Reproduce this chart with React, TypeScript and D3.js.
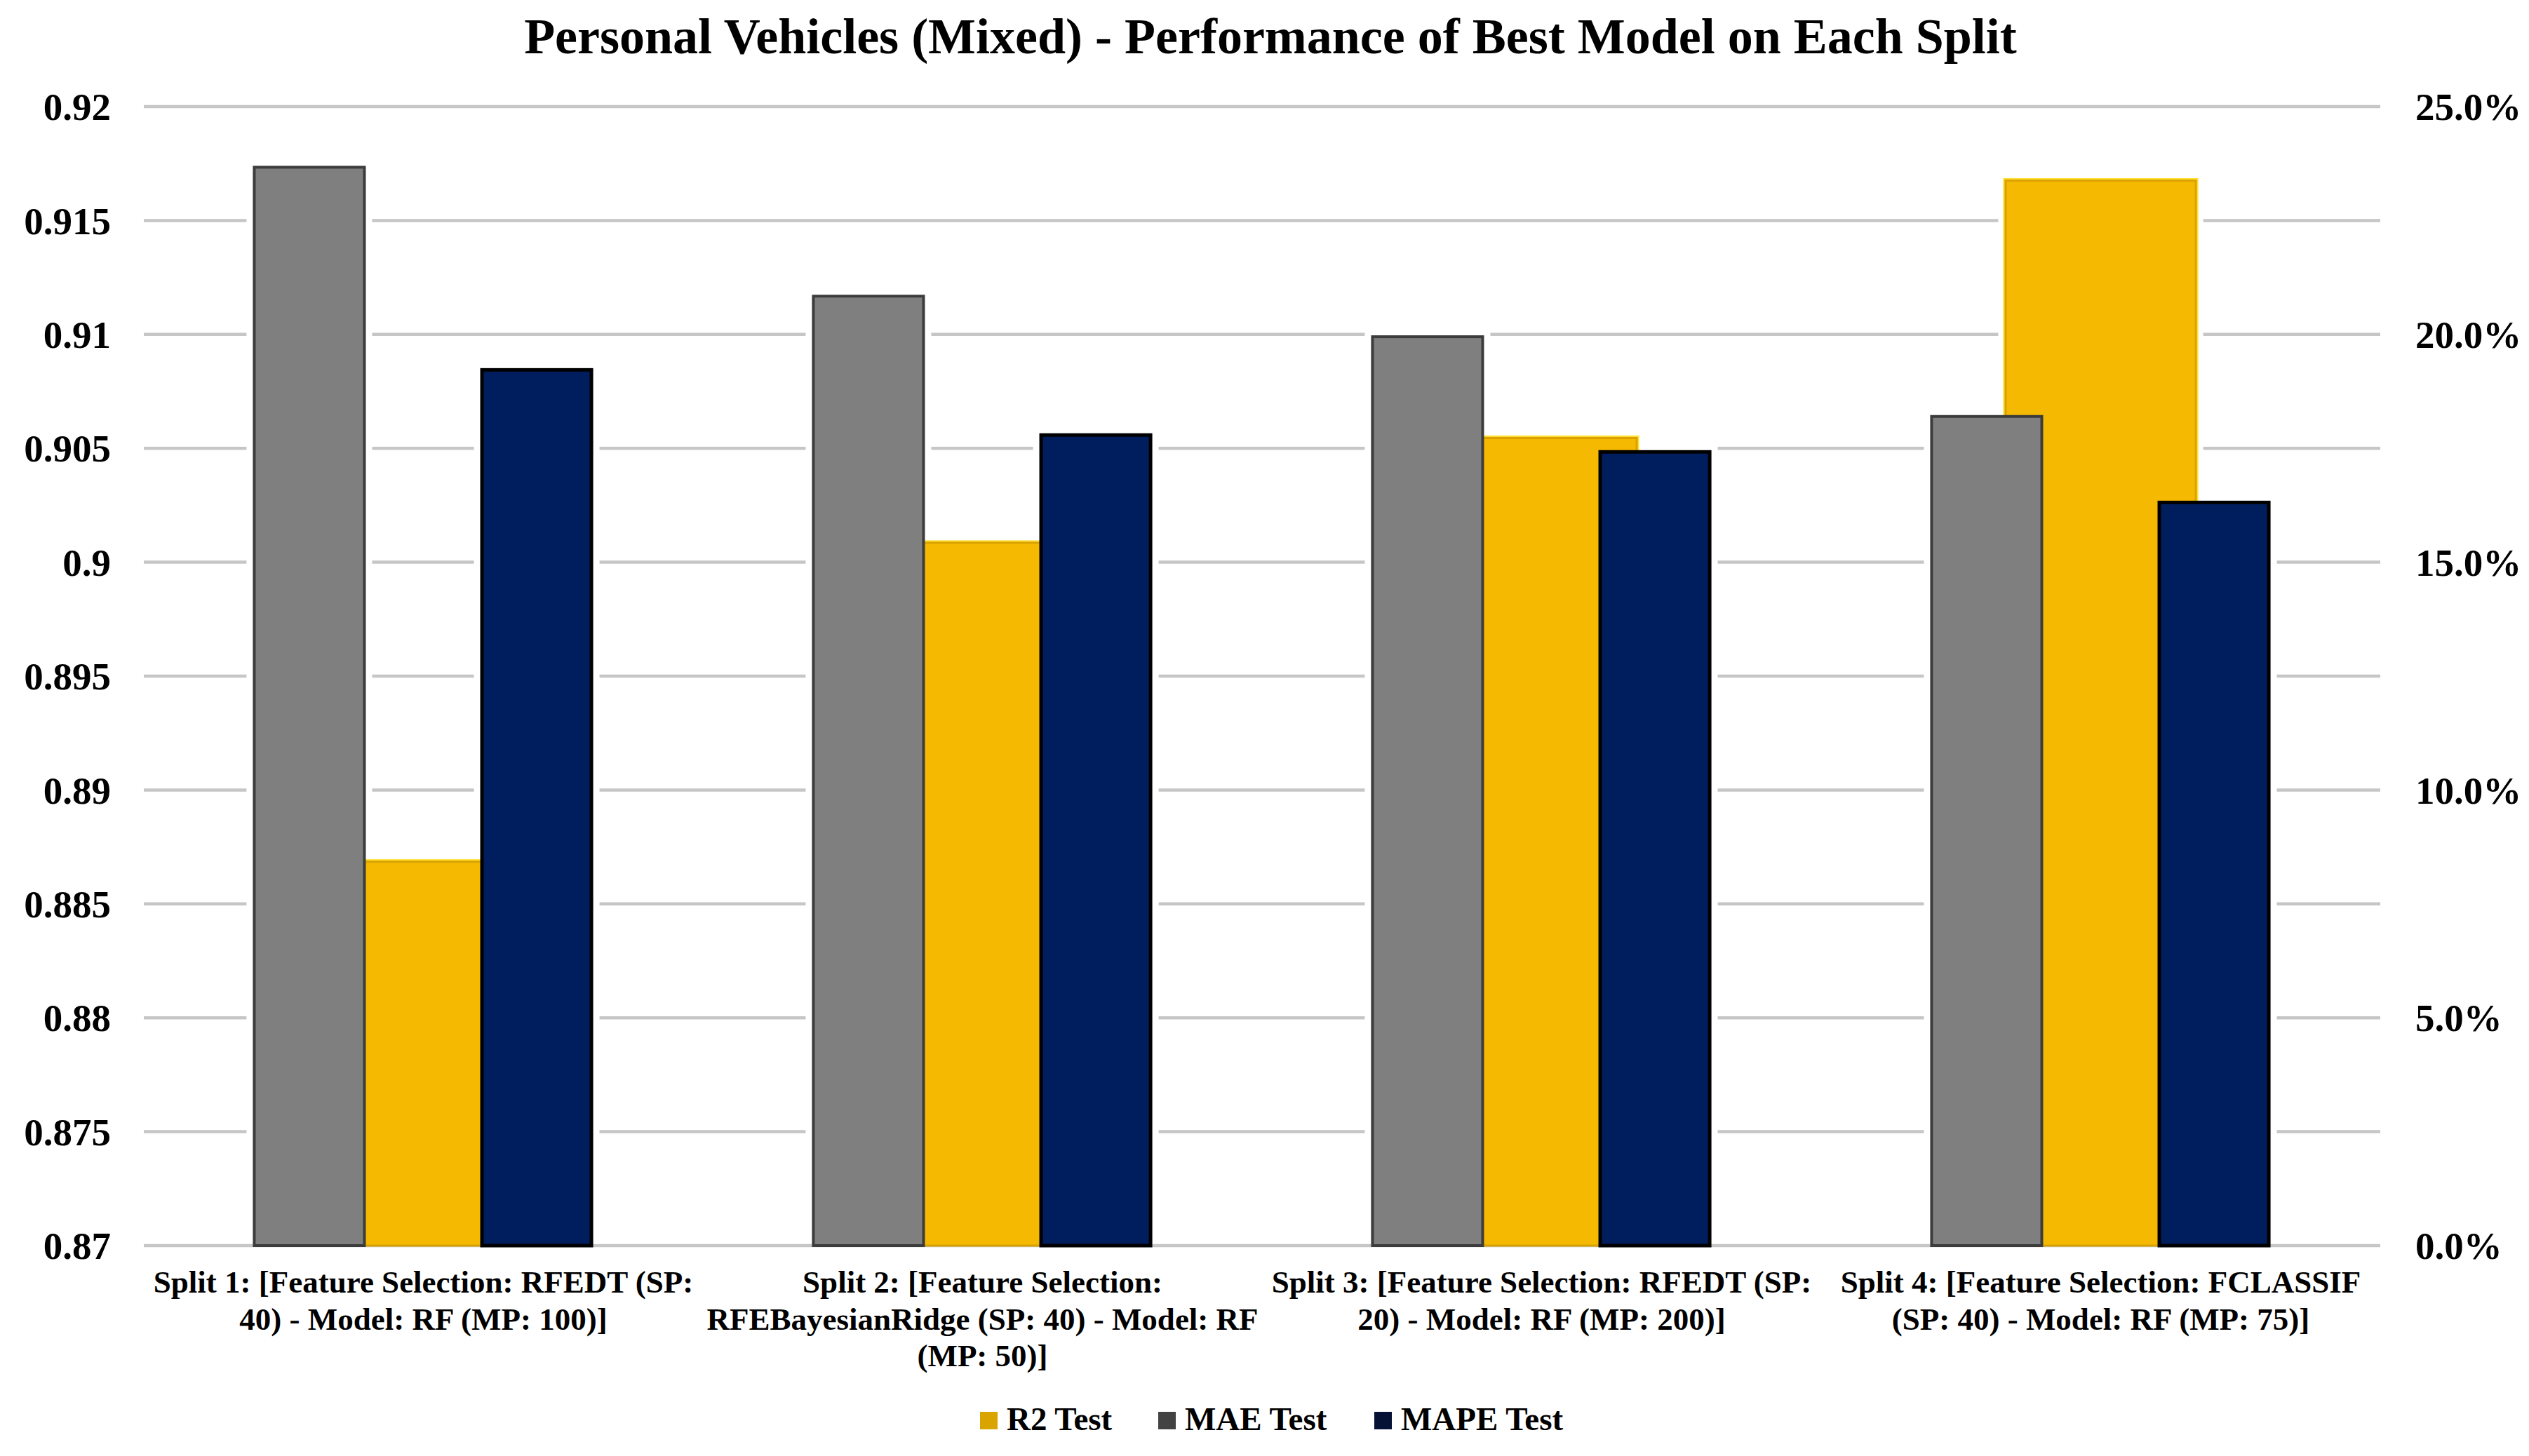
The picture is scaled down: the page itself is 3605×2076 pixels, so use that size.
import React, { useEffect } from "react";
import * as d3 from "d3";

const categories = ["Split 1", "Split 2", "Split 3", "Split 4"];
const categoryLabels: string[][] = [
  ["Split 1: [Feature Selection: RFEDT (SP:", "40) - Model: RF (MP: 100)]"],
  ["Split 2: [Feature Selection:", "RFEBayesianRidge (SP: 40) - Model: RF", "(MP: 50)]"],
  ["Split 3: [Feature Selection: RFEDT (SP:", "20) - Model: RF (MP: 200)]"],
  ["Split 4: [Feature Selection: FCLASSIF", "(SP: 40) - Model: RF (MP: 75)]"],
];
const r2Test = [0.8869, 0.9009, 0.9055, 0.9168];
const maeTest = [0.237, 0.2087, 0.1998, 0.1823];
const mapeTest = [0.1926, 0.1783, 0.1746, 0.1635];
const leftTicks = [0.87, 0.875, 0.88, 0.885, 0.89, 0.895, 0.9, 0.905, 0.91, 0.915, 0.92];
const rightTicks = [0, 0.05, 0.1, 0.15, 0.2, 0.25];
const legendItems = ["R2 Test", "MAE Test", "MAPE Test"];
const title = "Personal Vehicles (Mixed) - Performance of Best Model on Each Split";

const W = 3605;
const H = 2076;
const FONT = "'Liberation Serif', 'Times New Roman', serif";

export default function App() {
  useEffect(() => {
    document.body.style.margin = "0";
  }, []);

  const x = d3.scaleBand<string>().domain(categories).range([205, 3393]).padding(0);
  const bw = x.bandwidth();
  const sub = d3
    .scaleBand<string>()
    .domain(["MAE", "gap", "MAPE"])
    .range([-bw * 0.305, bw * 0.305])
    .padding(0);
  const yL = d3.scaleLinear().domain([0.87, 0.92]).range([1776, 152]);
  const yR = d3.scaleLinear().domain([0, 0.25]).range([1776, 152]);
  const yellowW = bw * 0.344;
  const sideW = sub.bandwidth() - 1;
  const halo = 9;
  const pct = d3.format(".1%");

  const cx = (c: string) => (x(c) as number) + bw / 2;

  const bars = categories.map((c, i) => {
    const center = cx(c);
    return {
      c,
      center,
      yellow: { x: center - yellowW / 2, w: yellowW, y: yL(r2Test[i]) },
      gray: { x: center + (sub("MAE") as number), w: sideW, y: yR(maeTest[i]) },
      navy: { x: center + (sub("MAPE") as number), w: sideW, y: yR(mapeTest[i]) },
    };
  });
  const base = yL(0.87);

  const legendColors = ["#D9A300", "#434343", "#061235"];
  const legendX = [1397, 1651, 1959];

  return (
    <svg
      width={W}
      height={H}
      viewBox={`0 0 ${W} ${H}`}
      style={{ position: "absolute", left: 0, top: 0, background: "#fff" }}
      fontFamily={FONT}
    >
      <rect x={0} y={0} width={W} height={H} fill="#fff" />
      <text x={1811} y={76} textAnchor="middle" fontSize={72} fontWeight="bold" fill="#000">
        {title}
      </text>

      {/* gridlines */}
      {leftTicks.map((t) => (
        <line
          key={"g" + t}
          x1={x.range()[0]}
          x2={x.range()[1]}
          y1={yL(t)}
          y2={yL(t)}
          stroke="#c6c6c6"
          strokeWidth={4.5}
        />
      ))}

      {/* halos around bars */}
      {bars.map((b) => (
        <g key={"h" + b.c} fill="#fff">
          <rect x={b.yellow.x - halo} y={b.yellow.y - halo} width={b.yellow.w + 2 * halo} height={base - b.yellow.y + halo - 3} />
          <rect x={b.gray.x - halo} y={b.gray.y - halo} width={b.gray.w + 2 * halo} height={base - b.gray.y + halo - 3} />
          <rect x={b.navy.x - halo} y={b.navy.y - halo} width={b.navy.w + 2 * halo} height={base - b.navy.y + halo - 3} />
        </g>
      ))}

      {/* yellow R2 bars (behind) */}
      {bars.map((b) => (
        <g key={"y" + b.c}>
          <rect x={b.yellow.x - 2} y={b.yellow.y - 2} width={b.yellow.w + 4} height={base - b.yellow.y + 2} fill="#FFE033" />
          <rect
            x={b.yellow.x + 1.5}
            y={b.yellow.y + 1.5}
            width={b.yellow.w - 3}
            height={base - b.yellow.y - 1.5}
            fill="#F4B900"
            stroke="#D9A200"
            strokeWidth={3}
          />
        </g>
      ))}

      {/* gray MAE and navy MAPE bars */}
      {bars.map((b) => (
        <g key={"s" + b.c}>
          <rect
            x={b.gray.x + 2}
            y={b.gray.y + 2}
            width={b.gray.w - 4}
            height={base - b.gray.y - 2}
            fill="#7F7F7F"
            stroke="#3c3c3c"
            strokeWidth={4}
          />
          <rect
            x={b.navy.x + 2.5}
            y={b.navy.y + 2.5}
            width={b.navy.w - 5}
            height={base - b.navy.y - 2.5}
            fill="#001E5E"
            stroke="#000000"
            strokeWidth={5}
          />
        </g>
      ))}

      {/* left axis labels */}
      {leftTicks.map((t) => (
        <text
          key={"l" + t}
          x={158}
          y={yL(t)}
          dy="0.35em"
          textAnchor="end"
          fontSize={55}
          fontWeight="bold"
          fill="#000"
        >
          {String(+t.toFixed(3))}
        </text>
      ))}

      {/* right axis labels */}
      {rightTicks.map((t) => (
        <text
          key={"r" + t}
          x={3443}
          y={yR(t)}
          dy="0.35em"
          textAnchor="start"
          fontSize={55}
          fontWeight="bold"
          fill="#000"
        >
          {pct(t)}
        </text>
      ))}

      {/* category labels */}
      {categories.map((c, i) => (
        <text key={"c" + c} x={cx(c)} y={1843} textAnchor="middle" fontSize={45} fontWeight="bold" fill="#000">
          {categoryLabels[i].map((line, j) => (
            <tspan key={j} x={cx(c)} dy={j === 0 ? 0 : 52.5}>
              {line}
            </tspan>
          ))}
        </text>
      ))}

      {/* legend */}
      {legendItems.map((name, i) => (
        <g key={"lg" + name}>
          <rect x={legendX[i]} y={2013} width={25} height={25} fill={legendColors[i]} />
          <text x={legendX[i] + 38} y={2039} fontSize={47} fontWeight="bold" fill="#000">
            {name}
          </text>
        </g>
      ))}
    </svg>
  );
}
